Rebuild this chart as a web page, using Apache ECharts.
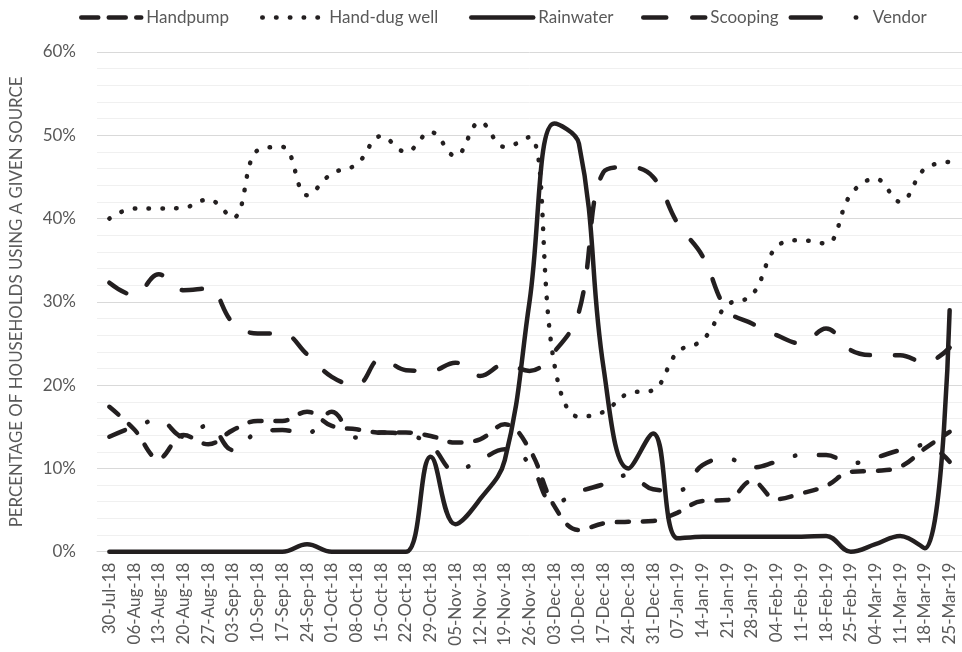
<!DOCTYPE html>
<html><head><meta charset="utf-8">
<script src="https://cdn.jsdelivr.net/npm/echarts@6/dist/echarts.min.js"></script>
<style>html,body{margin:0;padding:0;background:#fff}#c{width:962px;height:652px}</style>
</head><body><div id="c"></div>
<script>
const categories = ['30-Jul-18','06-Aug-18','13-Aug-18','20-Aug-18','27-Aug-18','03-Sep-18','10-Sep-18','17-Sep-18','24-Sep-18','01-Oct-18','08-Oct-18','15-Oct-18','22-Oct-18','29-Oct-18','05-Nov-18','12-Nov-18','19-Nov-18','26-Nov-18','03-Dec-18','10-Dec-18','17-Dec-18','24-Dec-18','31-Dec-18','07-Jan-19','14-Jan-19','21-Jan-19','28-Jan-19','04-Feb-19','11-Feb-19','18-Feb-19','25-Feb-19','04-Mar-19','11-Mar-19','18-Mar-19','25-Mar-19'];
const handpump    = [17.4,14.7,11.2,14.0,12.9,14.6,15.7,15.7,16.8,15.1,14.7,14.3,14.3,13.9,13.1,13.5,15.3,12.3,5.5,2.6,3.4,3.6,3.7,4.7,6.1,6.2,8.5,6.3,7.0,7.9,9.6,9.7,10.2,12.4,14.4];
const handDugWell = [40.0,41.2,41.2,41.3,42.3,40.1,48.2,48.6,42.8,45.4,46.5,49.9,48.0,50.4,47.5,51.6,48.6,49.8,22.6,16.2,16.8,19.0,19.4,24.0,25.4,29.6,30.8,36.6,37.4,37.0,42.9,44.8,42.0,46.0,46.8];
const rainwater   = [0,0,0,0,0,0,0,0,0.9,0,0,0,0,11.4,3.3,6.3,11.0,30.0,51.4,49.0,22.0,10.0,14.2,1.6,1.8,1.8,1.8,1.8,1.8,1.9,0,0.9,1.9,0.4,29.0];
const scooping    = [32.3,30.8,33.3,31.4,31.6,27.5,26.2,26.2,23.7,21.0,20.0,23.2,21.8,21.7,22.7,21.1,22.5,21.7,24.0,28.8,45.6,46.2,45.0,39.4,35.5,29.0,27.4,26.0,25.0,26.8,24.2,23.6,23.6,22.7,24.5];
const vendor      = [13.8,15.0,15.8,13.8,15.2,12.2,14.3,14.6,14.2,16.8,13.7,14.3,14.1,12.8,9.7,11.0,12.3,10.6,5.8,7.2,8.1,9.2,7.5,7.3,10.4,11.2,10.1,10.8,11.6,11.6,10.6,11.3,12.2,12.8,10.8];
const yTicks = [0,10,20,30,40,50,60];

const FONT = 'Lato';
const GRAY = '#595959';
const INK = '#231f20';
const LW = 4.5;
const DASH_HP = [12, 14];
const DASH_DOT = [0.5, 13.3];
const DASH_SC = [20, 25];
const DASH_VE = [17, 23.5, 0.5, 23.5];

function mk(name, data, dash) {
  return {
    name, type: 'line', data, smooth: 0.4, symbol: 'none', clip: false,
    lineStyle: { color: INK, width: LW, type: dash, cap: 'round', join: 'round' },
    itemStyle: { color: INK }, emphasis: { disabled: true }
  };
}
function lg(name, left, width, dash) {
  return {
    data: [name], left, top: 9, itemWidth: width, itemHeight: 16, padding: 0,
    selectedMode: false, textStyle: { fontFamily: FONT, fontSize: 17, color: GRAY },
    itemStyle: { opacity: 0 },
    lineStyle: { type: dash, width: LW, cap: 'round', color: INK }
  };
}

const chart = echarts.init(document.getElementById('c'), null, { renderer: 'canvas' });
chart.setOption({
  animation: false,
  backgroundColor: '#ffffff',
  grid: { left: 90.5, right: -3.5, top: 52, bottom: 100.3, containLabel: false },
  legend: [
    lg('Handpump', 79, 60, [17, 10.5]),
    lg('Hand-dug well', 260, 62, DASH_DOT),
    lg('Rainwater', 469, 62, 'solid'),
    lg('Scooping', 641, 62, [23, 26]),
    lg('Vendor', 788.5, 77, [30, 35, 0.5, 40])
  ],
  xAxis: {
    type: 'category', data: categories, boundaryGap: true,
    axisLine: { lineStyle: { color: '#d9d9d9', width: 1 } },
    axisTick: { show: false },
    axisLabel: { rotate: 90, interval: 0, fontFamily: FONT, fontSize: 17, color: GRAY, margin: 11 }
  },
  yAxis: {
    type: 'value', min: yTicks[0], max: yTicks[yTicks.length - 1], interval: yTicks[1] - yTicks[0],
    axisLabel: { formatter: '{value}%', fontFamily: FONT, fontSize: 17, color: GRAY, margin: 21 },
    axisLine: { show: false }, axisTick: { show: false },
    splitLine: { lineStyle: { color: '#d9d9d9', width: 1 } },
    minorTick: { show: false, splitNumber: 5 },
    minorSplitLine: { show: true, lineStyle: { color: '#f0f0f0', width: 1 } },
    name: 'PERCENTAGE OF HOUSEHOLDS USING A GIVEN SOURCE', nameLocation: 'middle', nameGap: 72,
    nameTextStyle: { fontFamily: FONT, fontSize: 16.9, color: GRAY }
  },
  series: [
    mk('Handpump', handpump, DASH_HP),
    mk('Hand-dug well', handDugWell, DASH_DOT),
    mk('Rainwater', rainwater, 'solid'),
    mk('Scooping', scooping, DASH_SC),
    mk('Vendor', vendor, DASH_VE)
  ]
});
</script></body></html>
